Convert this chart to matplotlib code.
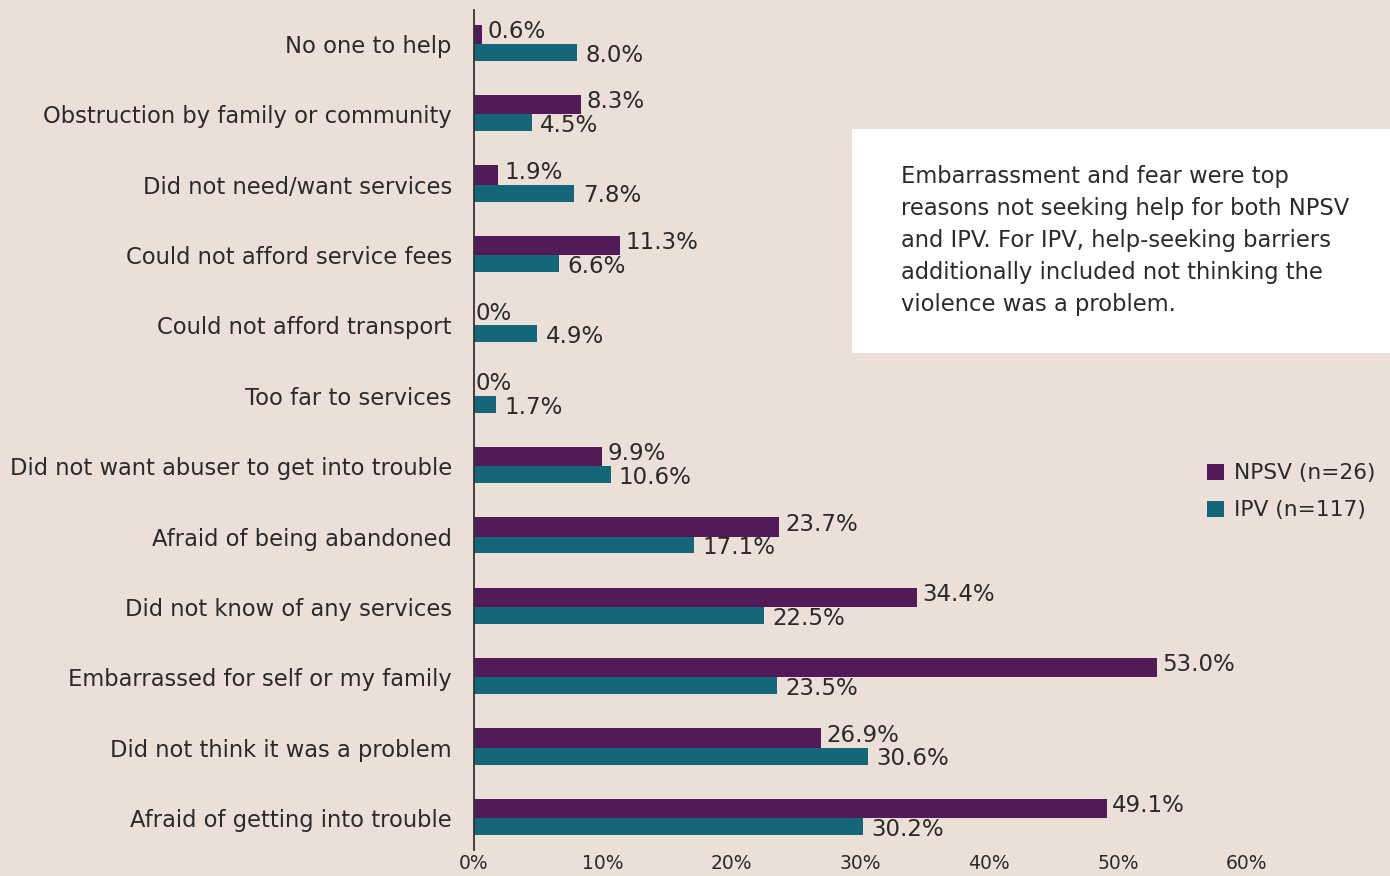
import matplotlib
matplotlib.use("Agg")
import matplotlib.pyplot as plt
from matplotlib.patches import Rectangle, Patch

categories = ["No one to help", "Obstruction by family or community", "Did not need/want services",
              "Could not afford service fees", "Could not afford transport", "Too far to services",
              "Did not want abuser to get into trouble", "Afraid of being abandoned",
              "Did not know of any services", "Embarrassed for self or my family",
              "Did not think it was a problem", "Afraid of getting into trouble"]
npsv = [0.6, 8.3, 1.9, 11.3, 0, 0, 9.9, 23.7, 34.4, 53.0, 26.9, 49.1]
ipv = [8.0, 4.5, 7.8, 6.6, 4.9, 1.7, 10.6, 17.1, 22.5, 23.5, 30.6, 30.2]
series_labels = ["NPSV (n=26)", "IPV (n=117)"]
xticks = [0, 10, 20, 30, 40, 50, 60]
note_lines = ["Embarrassment and fear were top",
              "reasons not seeking help for both NPSV",
              "and IPV. For IPV, help-seeking barriers",
              "additionally included not thinking the",
              "violence was a problem."]

BG = "#EBDFD8"
PURPLE = "#521A59"
TEAL = "#136779"
TXT = "#2a2a2a"
plt.rcParams['font.family'] = ['DejaVu Sans']

W, H = 1390, 876
fig = plt.figure(figsize=(W/100, H/100), dpi=100, facecolor=BG)
ax = fig.add_axes([474/W, (H-850)/H, (1247-474)/W, 840/H])
ax.set_facecolor(BG)

h1, h2 = 0.274, 0.241
n = len(categories)
ys = list(range(n))
ax.barh([y - h1/2 for y in ys], npsv, height=h1, color=PURPLE)
ax.barh([y + h2/2 for y in ys], ipv, height=h2, color=TEAL)

fs_val = 16.5
for y, v in zip(ys, npsv):
    ax.annotate(f"{v:.1f}%" if v > 0 else "0%", (v, y - h1/2), xytext=(4 if v > 0 else 1, 2),
                textcoords="offset points", va="center", ha="left", fontsize=fs_val, color=TXT)
for y, v in zip(ys, ipv):
    ax.annotate(f"{v:.1f}%", (v, y + h2/2), xytext=(6, -2),
                textcoords="offset points", va="center", ha="left", fontsize=fs_val, color=TXT)

ax.set_ylim(n - 1 + 0.455, -0.483)
ax.set_xlim(0, 60)
ax.set_yticks(ys)
ax.set_yticklabels(categories, fontsize=16.3, color=TXT)
ax.set_xticks(xticks)
ax.set_xticklabels([f"{t}%" for t in xticks], fontsize=13.5, color=TXT)
ax.tick_params(axis="y", length=0, pad=16)
ax.tick_params(axis="x", length=0, pad=3)
for s in ["top", "right", "bottom"]:
    ax.spines[s].set_visible(False)
ax.spines["left"].set_color("#333333")
ax.spines["left"].set_linewidth(1.3)

handles = [Patch(facecolor=PURPLE), Patch(facecolor=TEAL)]
fig.legend(handles, series_labels, loc="upper left", bbox_to_anchor=(1190/W, 1 - 446/H),
           frameon=False, fontsize=15.7, handlelength=0.75, handleheight=0.75,
           handletextpad=0.45, labelspacing=0.78, labelcolor=TXT, borderpad=0.3)

fig.add_artist(Rectangle((852/W, (H-353)/H), (W-852)/W, 224/H, transform=fig.transFigure,
                         facecolor="white", edgecolor="none"))
for i, line in enumerate(note_lines):
    fig.text(901/W, 1 - (177 + 32*i)/H, line, fontsize=16.3, color=TXT, va="center", ha="left")

fig.savefig("out.png", dpi=100, facecolor=BG)
